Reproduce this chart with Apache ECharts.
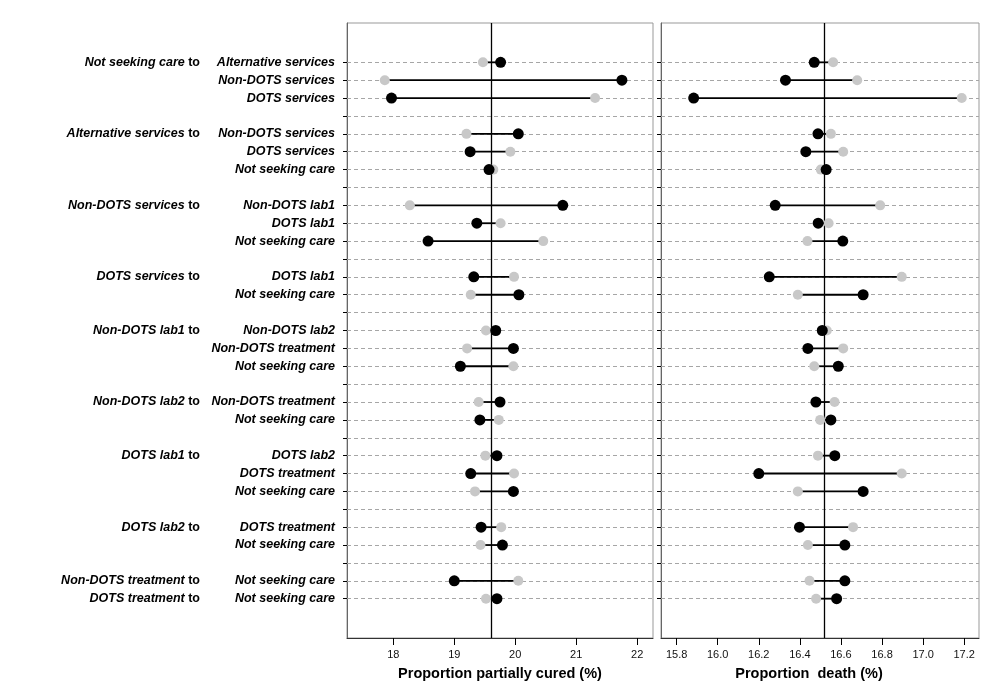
<!DOCTYPE html>
<html lang="en">
<head>
    <meta charset="UTF-8">
    <title>Proportion partially cured and death</title>
    <script src="https://cdn.jsdelivr.net/npm/echarts@6/dist/echarts.min.js"></script>
    <style>
        html, body { margin: 0; padding: 0; background: #fff; }
        #chart { width: 1000px; height: 699px; }
    </style>
</head>
<body>
<div id="chart"></div>
<script>
    // row positions (1 = top), blank rows separate the groups
    var rows = [1, 2, 3, 5, 6, 7, 9, 10, 11, 13, 14, 16, 17, 18, 20, 21, 23, 24, 25, 27, 28, 30, 31];
    var destLabels = [
        'Alternative services', 'Non-DOTS services', 'DOTS services',
        'Non-DOTS services', 'DOTS services', 'Not seeking care',
        'Non-DOTS lab1', 'DOTS lab1', 'Not seeking care',
        'DOTS lab1', 'Not seeking care',
        'Non-DOTS lab2', 'Non-DOTS treatment', 'Not seeking care',
        'Non-DOTS treatment', 'Not seeking care',
        'DOTS lab2', 'DOTS treatment', 'Not seeking care',
        'DOTS treatment', 'Not seeking care',
        'Not seeking care',
        'Not seeking care'
    ];
    var groupNames = ['Not seeking care', 'Alternative services', 'Non-DOTS services', 'DOTS services',
        'Non-DOTS lab1', 'Non-DOTS lab2', 'DOTS lab1', 'DOTS lab2', 'Non-DOTS treatment', 'DOTS treatment'];
    var groupRows = [1, 5, 9, 13, 16, 20, 23, 27, 30, 31];

    // grey points and black points
    var curedGrey = [19.47, 17.86, 21.31, 19.20, 19.92, 19.64, 18.27, 19.76, 20.46, 19.98, 19.27,
        19.52, 19.21, 19.97, 19.40, 19.73, 19.51, 19.98, 19.34, 19.77, 19.43, 20.05, 19.52];
    var curedBlack = [19.76, 21.75, 17.97, 20.05, 19.26, 19.57, 20.78, 19.37, 18.57, 19.32, 20.06,
        19.68, 19.97, 19.10, 19.75, 19.42, 19.70, 19.27, 19.97, 19.44, 19.79, 19.00, 19.70];
    var deathGrey = [16.562, 16.679, 17.188, 16.551, 16.611, 16.502, 16.791, 16.540, 16.437, 16.896, 16.390,
        16.531, 16.611, 16.470, 16.569, 16.499, 16.488, 16.896, 16.390, 16.659, 16.439, 16.447, 16.479];
    var deathBlack = [16.470, 16.330, 15.883, 16.488, 16.429, 16.528, 16.280, 16.489, 16.609, 16.251, 16.708,
        16.509, 16.439, 16.587, 16.478, 16.551, 16.570, 16.200, 16.708, 16.398, 16.619, 16.619, 16.579];

    var curedRef = 19.6;
    var deathRef = 16.52;
    var curedTicks = [18, 19, 20, 21, 22];
    var deathTicks = [15.8, 16.0, 16.2, 16.4, 16.6, 16.8, 17.0, 17.2];

    var chart = echarts.init(document.getElementById('chart'));

    var allRows = [];
    for (var r = 1; r <= 31; r++) allRows.push(r);

    var font = 'Liberation Sans, Arial, sans-serif';

    function yAxisBase(grid) {
        return {
            type: 'value', gridIndex: grid, position: 'left', inverse: true, min: -1.2, max: 33.2,
            splitLine: {show: false},
            axisLine: {show: true, onZero: false, lineStyle: {color: '#666', width: 1}},
            axisTick: {show: true, length: 4, customValues: allRows, lineStyle: {color: '#000'}},
            axisLabel: {show: false}
        };
    }

    function xAxisBase(grid, min, max, ticks, digits, name, pad) {
        return {
            type: 'value', gridIndex: grid, position: 'bottom', min: min, max: max,
            splitLine: {show: false},
            axisLine: {show: true, onZero: false, lineStyle: {color: '#333', width: 1}},
            axisTick: {show: true, length: 7, customValues: ticks, lineStyle: {color: '#000'}},
            axisLabel: {
                customValues: ticks, margin: 11, fontSize: 11, color: '#111', fontFamily: font,
                formatter: function (v) { return v.toFixed(digits); }
            },
            name: name, nameLocation: 'middle', nameGap: 28,
            nameTextStyle: {fontSize: 14.5, fontWeight: 'bold', color: '#000', fontFamily: font, padding: pad}
        };
    }

    function panelSeries(grey, black, ref, xi, yi) {
        var pairs = [], greyPts = [], blackPts = [];
        for (var i = 0; i < rows.length; i++) {
            pairs.push([grey[i], black[i], rows[i]]);
            greyPts.push([grey[i], rows[i]]);
            blackPts.push([black[i], rows[i]]);
        }
        return [
            {
                type: 'scatter', xAxisIndex: xi, yAxisIndex: yi, data: [], z: 1, silent: true,
                markLine: {
                    z: 1, silent: true, symbol: ['none', 'none'], label: {show: false}, animation: false,
                    lineStyle: {color: '#a6a6a6', type: [4, 3], width: 1},
                    data: allRows.map(function (v) { return {yAxis: v}; })
                }
            },
            {
                type: 'scatter', xAxisIndex: xi, yAxisIndex: yi, data: [], z: 2, silent: true,
                markLine: {
                    z: 2, silent: true, symbol: ['none', 'none'], label: {show: false}, animation: false,
                    lineStyle: {color: '#000', type: 'solid', width: 1.3},
                    data: [{xAxis: ref}]
                }
            },
            {
                type: 'custom', xAxisIndex: xi, yAxisIndex: yi, z: 3, silent: true,
                encode: {x: [0, 1], y: 2},
                data: pairs,
                renderItem: function (params, api) {
                    var p1 = api.coord([api.value(0), api.value(2)]);
                    var p2 = api.coord([api.value(1), api.value(2)]);
                    return {
                        type: 'line',
                        shape: {x1: p1[0], y1: p1[1], x2: p2[0], y2: p2[1]},
                        style: {stroke: '#000', lineWidth: 1.8}
                    };
                }
            },
            {
                type: 'scatter', xAxisIndex: xi, yAxisIndex: yi, z: 4, silent: true,
                symbolSize: 10, itemStyle: {color: '#c8c8c8', opacity: 1}, data: greyPts
            },
            {
                type: 'scatter', xAxisIndex: xi, yAxisIndex: yi, z: 5, silent: true,
                symbolSize: 11, itemStyle: {color: '#000', opacity: 1}, data: blackPts
            }
        ];
    }

    var destAxis = yAxisBase(0);
    destAxis.axisLabel = {
        show: true, customValues: rows, margin: 12, fontSize: 12.5, fontWeight: 'bold', fontStyle: 'italic',
        color: '#000', fontFamily: font,
        formatter: function (v) { return destLabels[rows.indexOf(v)]; }
    };

    var groupAxis = yAxisBase(0);
    groupAxis.offset = 135;
    groupAxis.axisLine = {show: false, onZero: false};
    groupAxis.axisTick = {show: false};
    groupAxis.axisLabel = {
        show: true, customValues: groupRows, margin: 12, fontFamily: font,
        formatter: function (v) { return '{g|' + groupNames[groupRows.indexOf(v)] + '}{t| to}'; },
        rich: {
            g: {fontSize: 12.5, fontWeight: 'bold', fontStyle: 'italic', color: '#000', fontFamily: font},
            t: {fontSize: 12.5, fontWeight: 'bold', color: '#000', fontFamily: font}
        }
    };

    var option = {
        animation: false,
        backgroundColor: '#fff',
        grid: [
            {left: 347, top: 23, width: 306, height: 615, show: true, borderColor: '#999', borderWidth: 1},
            {left: 661, top: 23, width: 318, height: 615, show: true, borderColor: '#999', borderWidth: 1}
        ],
        xAxis: [
            xAxisBase(0, 17.24, 22.26, curedTicks, 0, 'Proportion partially cured (%)', 0),
            xAxisBase(1, 15.724, 17.272, deathTicks, 1, 'Proportion  death (%)', [0, 22, 0, 0])
        ],
        yAxis: [destAxis, groupAxis, yAxisBase(1)],
        series: panelSeries(curedGrey, curedBlack, curedRef, 0, 0)
            .concat(panelSeries(deathGrey, deathBlack, deathRef, 1, 2))
    };

    chart.setOption(option);
</script>
</body>
</html>
